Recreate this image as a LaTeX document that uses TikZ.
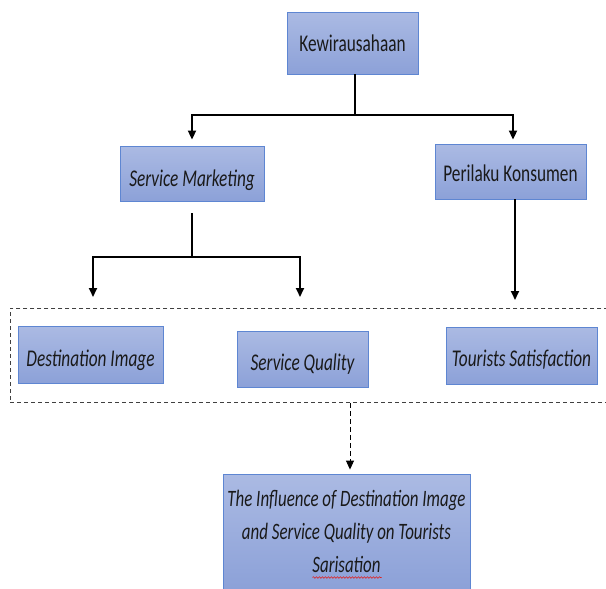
\documentclass[tikz,border=0pt]{standalone}
\usepackage{fontspec}
\setmainfont[FakeStretch=0.72]{Carlito}
\usetikzlibrary{arrows.meta,decorations.pathmorphing}
\definecolor{boxtop}{HTML}{ABBAE3}
\definecolor{boxbot}{HTML}{8CA1D8}
\definecolor{boxline}{HTML}{5E86D2}
\definecolor{txt}{HTML}{1A1A1A}
\definecolor{squig}{HTML}{E02020}
\tikzset{
  box/.style={draw=boxline, line width=0.9pt, top color=boxtop, bottom color=boxbot,
    text=txt, font=\fontsize{24}{28}\selectfont, inner sep=2pt, align=center},
  ibox/.style={box, font=\fontsize{24}{28}\selectfont\itshape},
  lower/.style={text height=#1, text depth=0pt},
  conn/.style={line width=2pt, black},
  arr/.style={conn, -{Triangle[width=8pt,length=9pt]}},
  darr/.style={line width=0.9pt, black, dash pattern=on 5pt off 3pt, -{Triangle[width=8pt,length=9pt]}},
  grpbox/.style={draw=black!75, line width=0.9pt, dash pattern=on 4pt off 3pt, inner sep=0pt}
}
\begin{document}
\begin{tikzpicture}[x=1pt,y=-1pt]
\path[use as bounding box, clip] (0,0) rectangle (606,589);
\fill[white] (0,0) rectangle (606,589);
% group box (right edge outside the picture)
\node[grpbox, minimum width=630pt, minimum height=94pt, anchor=north west] (grp) at (10,308) {};
% nodes
\node[box, lower=17pt, minimum width=131pt, minimum height=62pt] (k) at (352.5,43) {Kewirausahaan};
\node[ibox, lower=25pt, minimum width=144pt, minimum height=55pt] (sm) at (192,173.5) {Service Marketing};
\node[box, lower=19pt, minimum width=151pt, minimum height=55pt] (pk) at (510.5,171.5) {Perilaku Konsumen};
\node[ibox, lower=23pt, minimum width=145pt, minimum height=57pt] (di) at (90.5,354.5) {Destination Image};
\node[ibox, lower=22pt, minimum width=131pt, minimum height=56pt] (sq) at (302.5,359) {Service Quality};
\node[ibox, lower=21pt, minimum width=151pt, minimum height=57pt] (ts) at (521.5,355.5) {Tourists Satisfaction};
\node[ibox, minimum width=247pt, minimum height=115pt, font=\fontsize{23.5}{33}\selectfont\itshape] (fin) at (346.5,531.5)
  {The Influence of Destination Image\\and Service Quality on Tourists\\Sarisation};
% connectors
\coordinate (b1) at (355,115);
\draw[conn] (k.south -| b1) -- (b1);
\draw[arr, shorten >=6pt] (b1) -| (sm.north);
\draw[arr, shorten >=4pt] (b1) -| ([xshift=2.5pt]pk.north);
\coordinate (b2) at (192,257);
\draw[conn] ([yshift=-12pt]sm.south) -- (b2);
\draw[arr, shorten >=11pt] (b2) -| ([xshift=2.5pt]di.north |- grp.north);
\draw[arr, shorten >=11pt] (b2) -| ([xshift=-2.5pt]sq.north |- grp.north);
\draw[arr, shorten >=8pt] ([xshift=4.5pt]pk.south) -- ([xshift=4.5pt]pk.south |- grp.north);
\draw[darr, shorten >=4pt] ([xshift=3.5pt]fin.north |- grp.south) -- ([xshift=3.5pt]fin.north);
% spell-check squiggle
\draw[squig, line width=0.6pt, decorate, decoration={snake, segment length=3pt, amplitude=0.8pt}]
  ([xshift=-34pt,yshift=-46pt]fin.center) -- ([xshift=35pt,yshift=-46pt]fin.center);
\end{tikzpicture}
\end{document}
